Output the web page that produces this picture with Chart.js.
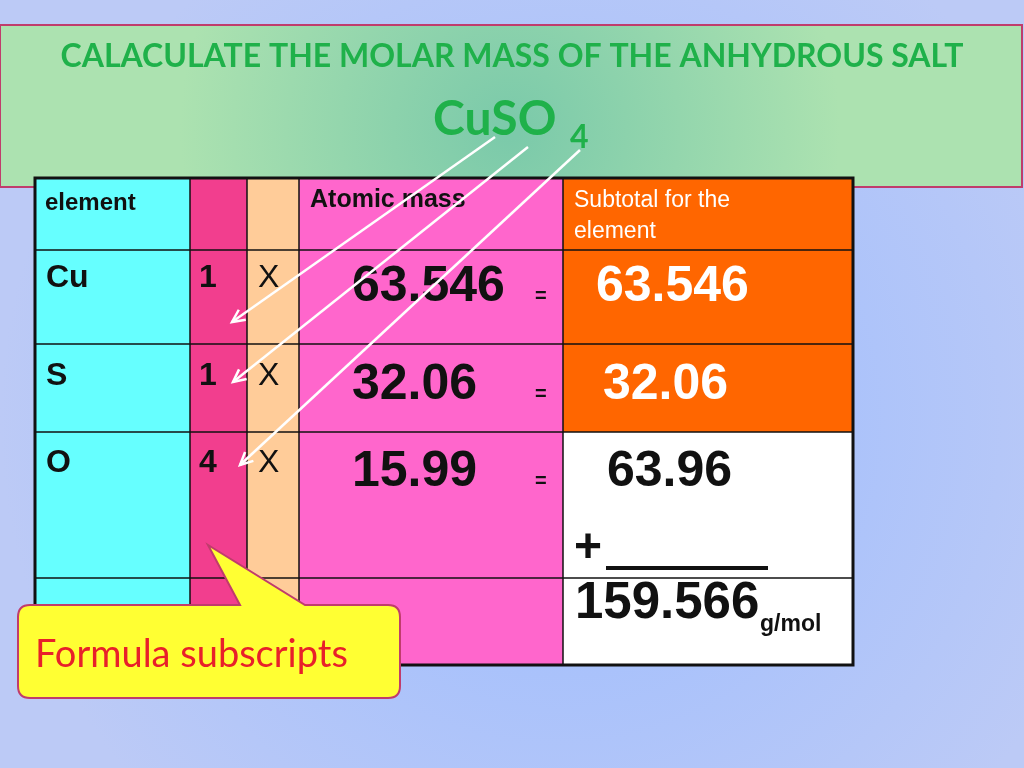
<!DOCTYPE html>
<html>
<head>
<meta charset="utf-8">
<script src="https://cdn.jsdelivr.net/npm/chart.js@4"></script>
<style>
  html, body { margin: 0; padding: 0; width: 1024px; height: 768px; overflow: hidden; }
  #wrap { width: 1024px; height: 768px; }
</style>
</head>
<body>
<div id="wrap"><canvas id="slide"></canvas></div>
<script>
// Table content
const elements = ['Cu', 'S', 'O'];
const subscripts = [1, 1, 4];
const atomicMasses = ['63.546', '32.06', '15.99'];
const subtotals = ['63.546', '32.06', '63.96'];
const total = '159.566';

// Grid in slide coordinates (1024 x 768)
const colEdges = [35, 190, 247, 299, 563, 853];
const rowEdges = [178, 250, 344, 432, 578, 665];
const colFills = ['#66ffff', '#f23e8e', '#ffcc99', '#ff66cc', null];
const subtotalFills = ['#ff6600', '#ff6600', '#ff6600', '#ffffff', '#ffffff'];

const slidePlugin = {
  id: 'slide',
  beforeDraw(chart) {
    const c = chart.ctx, X = v => chart.scales.x.getPixelForValue(v), Y = v => chart.scales.y.getPixelForValue(v);
    // background
    const bg = c.createRadialGradient(X(560), Y(420), 20, X(560), Y(420), 560);
    bg.addColorStop(0, '#9cbcff');
    bg.addColorStop(1, '#bccaf6');
    c.fillStyle = bg;
    c.fillRect(0, 0, chart.width, chart.height);
    // title box
    const tg = c.createRadialGradient(X(510), Y(130), 10, X(510), Y(130), 330);
    tg.addColorStop(0, '#7ccaaa');
    tg.addColorStop(1, '#ace2b0');
    c.fillStyle = tg;
    c.fillRect(X(0), Y(25), X(1022) - X(0), Y(187) - Y(25));
    c.strokeStyle = '#c03c6c'; c.lineWidth = 2;
    c.strokeRect(X(0), Y(25), X(1022) - X(0), Y(187) - Y(25));
    c.fillStyle = '#1fb14a';
    c.textBaseline = 'middle'; c.textAlign = 'center';
    c.font = 'bold 32px Lato, "Open Sans", sans-serif';
    c.fillText('CALACULATE THE MOLAR MASS OF THE ANHYDROUS SALT', X(512), Y(57));
    c.textAlign = 'left';
    c.font = 'bold 48px Lato, "Open Sans", sans-serif';
    c.fillText('CuSO', X(433), Y(120));
    c.font = 'bold 32px Lato, "Open Sans", sans-serif';
    c.fillText('4', X(570), Y(138));
  },
  afterDraw(chart) {
    const c = chart.ctx, X = v => chart.scales.x.getPixelForValue(v), Y = v => chart.scales.y.getPixelForValue(v);
    // cells
    for (let r = 0; r < rowEdges.length - 1; r++) {
      for (let k = 0; k < colEdges.length - 1; k++) {
        c.fillStyle = colFills[k] || subtotalFills[r];
        c.fillRect(X(colEdges[k]), Y(rowEdges[r]), X(colEdges[k + 1]) - X(colEdges[k]), Y(rowEdges[r + 1]) - Y(rowEdges[r]));
      }
    }
    c.strokeStyle = '#111'; c.lineWidth = 1.5;
    rowEdges.forEach(y => { c.beginPath(); c.moveTo(X(35), Y(y)); c.lineTo(X(853), Y(y)); c.stroke(); });
    colEdges.forEach(x => { c.beginPath(); c.moveTo(X(x), Y(178)); c.lineTo(X(x), Y(665)); c.stroke(); });
    c.lineWidth = 3;
    c.strokeRect(X(35), Y(178), X(853) - X(35), Y(665) - Y(178));

    // header
    c.textAlign = 'left'; c.textBaseline = 'middle';
    c.fillStyle = '#111';
    c.font = 'bold 24px "Liberation Sans", Arial, sans-serif';
    c.fillText('element', X(45), Y(203));
    c.font = 'bold 25px "Liberation Sans", Arial, sans-serif';
    c.fillText('Atomic mass', X(310), Y(200));
    c.fillStyle = '#ffffff';
    c.font = '23px "Liberation Sans", Arial, sans-serif';
    c.fillText('Subtotal for the', X(574), Y(201));
    c.fillText('element', X(574), Y(232));

    // rows
    const rowY = [278, 376, 463];
    elements.forEach((el, i) => {
      const y = rowY[i];
      c.fillStyle = '#111';
      c.font = 'bold 32px "Liberation Sans", Arial, sans-serif';
      c.fillText(el, X(46), Y(y));
      c.fillText(String(subscripts[i]), X(199), Y(y));
      c.font = '32px "Liberation Sans", Arial, sans-serif';
      c.fillText('X', X(258), Y(y));
      c.font = 'bold 50px "Liberation Sans", Arial, sans-serif';
      c.fillText(atomicMasses[i], X(352), Y(y + 9));
      c.font = 'bold 20px "Liberation Sans", Arial, sans-serif';
      c.fillText('=', X(535), Y(y + 18));
      c.fillStyle = i < 2 ? '#ffffff' : '#111';
      c.font = 'bold 50px "Liberation Sans", Arial, sans-serif';
      c.fillText(subtotals[i], X([596, 603, 607][i]), Y(y + 9));
    });
    c.fillStyle = '#111';
    c.font = 'bold 48px "Liberation Sans", Arial, sans-serif';
    c.fillText('+', X(574), Y(549));
    c.fillRect(X(606), Y(566), X(768) - X(606), 4);
    c.font = 'bold 51px "Liberation Sans", Arial, sans-serif';
    c.fillText(total, X(575), Y(604));
    c.font = 'bold 23px "Liberation Sans", Arial, sans-serif';
    c.fillText('g/mol', X(760), Y(625));

    // arrows from formula to subscripts
    const arrows = [[495, 137, 232, 322], [528, 147, 233, 382], [580, 150, 240, 465]];
    c.strokeStyle = '#ffffff'; c.lineWidth = 2.5;
    arrows.forEach(([x1, y1, x2, y2]) => {
      c.beginPath(); c.moveTo(X(x1), Y(y1)); c.lineTo(X(x2), Y(y2)); c.stroke();
      const a = Math.atan2(Y(y2) - Y(y1), X(x2) - X(x1));
      c.beginPath();
      c.moveTo(X(x2) - 14 * Math.cos(a - 0.45), Y(y2) - 14 * Math.sin(a - 0.45));
      c.lineTo(X(x2), Y(y2));
      c.lineTo(X(x2) - 14 * Math.cos(a + 0.45), Y(y2) - 14 * Math.sin(a + 0.45));
      c.stroke();
    });

    // callout
    c.beginPath();
    const l = X(18), t = Y(605), rr = X(400), b = Y(698), rad = 12;
    c.moveTo(l + rad, t);
    c.lineTo(X(240), t);
    c.lineTo(X(208), Y(545));
    c.lineTo(X(305), t);
    c.lineTo(rr - rad, t); c.quadraticCurveTo(rr, t, rr, t + rad);
    c.lineTo(rr, b - rad); c.quadraticCurveTo(rr, b, rr - rad, b);
    c.lineTo(l + rad, b); c.quadraticCurveTo(l, b, l, b - rad);
    c.lineTo(l, t + rad); c.quadraticCurveTo(l, t, l + rad, t);
    c.closePath();
    c.fillStyle = '#ffff33'; c.fill();
    c.strokeStyle = '#c03c6c'; c.lineWidth = 2; c.stroke();
    c.fillStyle = '#e8202a';
    c.font = '38px Lato, "Open Sans", sans-serif';
    c.fillText('Formula subscripts', X(35), Y(655));
  }
};

new Chart(document.getElementById('slide'), {
  type: 'scatter',
  data: { datasets: [{ data: [] }] },
  options: {
    responsive: true,
    maintainAspectRatio: false,
    animation: false,
    layout: { padding: 0 },
    plugins: { legend: { display: false }, tooltip: { enabled: false } },
    scales: {
      x: { type: 'linear', min: 0, max: 1024, display: false },
      y: { type: 'linear', min: 0, max: 768, reverse: true, display: false }
    }
  },
  plugins: [slidePlugin]
});
</script>
</body>
</html>
